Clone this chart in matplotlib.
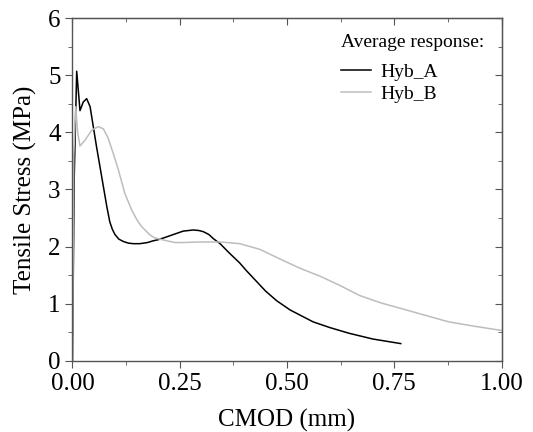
import matplotlib.pyplot as plt
from matplotlib.ticker import MultipleLocator

# Average response curves, CMOD (mm) vs tensile stress (MPa)
cmod_a = [0.0, 0.004, 0.0098, 0.0175, 0.025, 0.033, 0.041, 0.0485, 0.056,
          0.064, 0.072, 0.080, 0.087, 0.093, 0.099, 0.108, 0.118, 0.130,
          0.142, 0.157, 0.175, 0.188, 0.2, 0.22, 0.235, 0.258, 0.282, 0.295,
          0.305, 0.318, 0.328, 0.344, 0.365, 0.39, 0.405, 0.425, 0.45,
          0.476, 0.507, 0.53, 0.561, 0.60, 0.645, 0.70, 0.765]
stress_a = [0.0, 3.2, 5.07, 4.38, 4.53, 4.59, 4.45, 4.10, 3.75,
            3.40, 3.05, 2.70, 2.43, 2.30, 2.21, 2.13, 2.09, 2.06,
            2.05, 2.05, 2.07, 2.10, 2.12, 2.17, 2.21, 2.27, 2.29, 2.28,
            2.26, 2.21, 2.14, 2.05, 1.89, 1.71, 1.58, 1.42, 1.22,
            1.05, 0.89, 0.80, 0.68, 0.58, 0.48, 0.38, 0.30]

cmod_b = [0.0, 0.003, 0.0075, 0.012, 0.0175, 0.029, 0.045, 0.060, 0.072,
          0.083, 0.095, 0.107, 0.122, 0.138, 0.150, 0.161, 0.181, 0.192,
          0.220, 0.239, 0.258, 0.30, 0.344, 0.39, 0.437, 0.484, 0.53,
          0.577, 0.62, 0.67, 0.72, 0.763, 0.82, 0.877, 0.94, 1.0]
stress_b = [0.0, 3.6, 4.45, 4.0, 3.76, 3.86, 4.04, 4.10, 4.06,
            3.90, 3.63, 3.34, 2.93, 2.64, 2.47, 2.35, 2.20, 2.15,
            2.10, 2.07, 2.07, 2.08, 2.08, 2.05, 1.95, 1.78, 1.62,
            1.48, 1.33, 1.14, 1.01, 0.92, 0.80, 0.68, 0.60, 0.53]

plt.rcParams['font.family'] = 'Liberation Serif'

fig = plt.figure(figsize=(5.33, 4.32), dpi=100)
ax = fig.add_axes([0.136, 0.165, 0.805, 0.793])

ax.plot(cmod_a, stress_a, color='black', lw=1.1, label='Hyb_A')
ax.plot(cmod_b, stress_b, color='#bdbdbd', lw=1.1, label='Hyb_B')

ax.set_xlim(0, 1.0)
ax.set_ylim(0, 6)
ax.set_xticks([0, 0.25, 0.5, 0.75, 1.0], ['0.00', '0.25', '0.50', '0.75', '1.00'])
ax.xaxis.set_minor_locator(MultipleLocator(0.125))
ax.yaxis.set_major_locator(MultipleLocator(1))
ax.yaxis.set_minor_locator(MultipleLocator(0.5))

for s in ax.spines.values():
    s.set_color('#555555')
    s.set_linewidth(1.0)

ax.tick_params(which='both', direction='out', color='#555555', labelsize=18)
ax.tick_params(which='major', length=5)
ax.tick_params(which='minor', length=3)
ax.tick_params(axis='x', pad=4)

# mirrored inward ticks on top and right
top = ax.secondary_xaxis('top')
top.set_xticks([0, 0.25, 0.5, 0.75, 1.0], [])
top.xaxis.set_minor_locator(MultipleLocator(0.125))
top.tick_params(which='both', direction='in', color='#555555')
top.tick_params(which='major', length=5)
top.tick_params(which='minor', length=3)
right = ax.secondary_yaxis('right')
right.set_yticks(range(7), [])
right.yaxis.set_minor_locator(MultipleLocator(0.5))
right.tick_params(which='both', direction='in', color='#555555')
right.tick_params(which='major', length=5)
right.tick_params(which='minor', length=3)

ax.set_xlabel('CMOD (mm)', fontsize=18, labelpad=10)
ax.set_ylabel('Tensile Stress (MPa)', fontsize=18, labelpad=8)

ax.text(0.626, 0.93, 'Average response:', transform=ax.transAxes,
        fontsize=14, ha='left', va='center')
leg = ax.legend(loc='upper left', frameon=False, fontsize=14,
                handlelength=1.55, handletextpad=0.45, labelspacing=0.22,
                borderpad=0, borderaxespad=0,
                bbox_to_anchor=(0.626, 0.869))

fig.savefig('out.png', dpi=100)
